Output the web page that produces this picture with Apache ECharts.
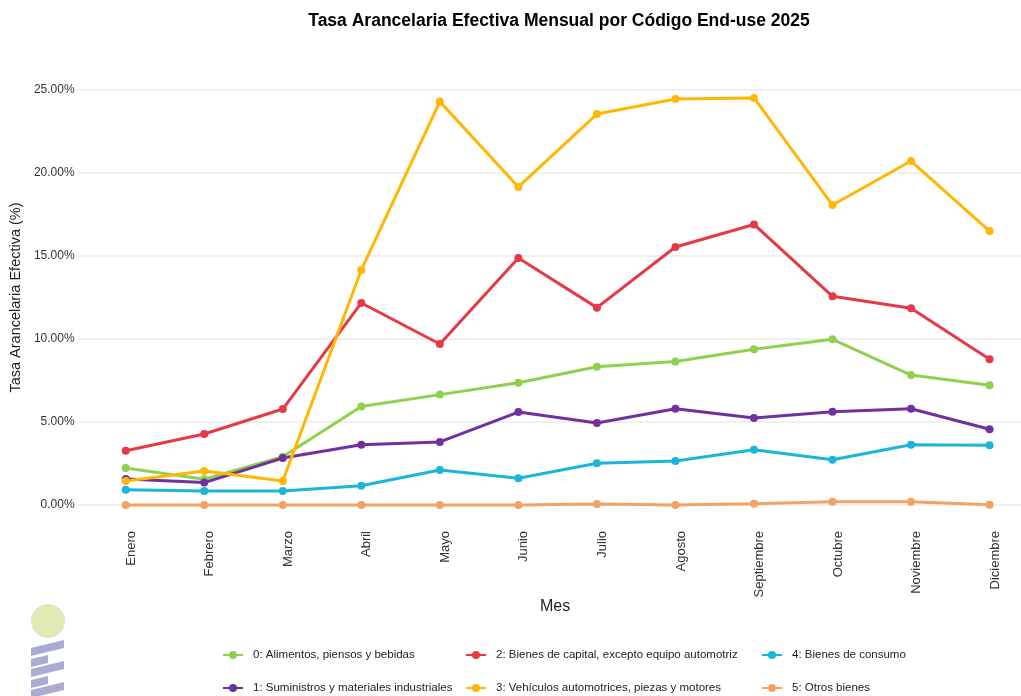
<!DOCTYPE html>
<html>
<head>
<meta charset="utf-8">
<script src="https://cdn.jsdelivr.net/npm/echarts@6/dist/echarts.min.js"></script>
<style>
html,body{margin:0;padding:0;background:#fff;}
#chart{width:1021px;height:696px;}
</style>
</head>
<body>
<div id="chart"></div>
<script>
const months = ['Enero','Febrero','Marzo','Abril','Mayo','Junio','Julio','Agosto','Septiembre','Octubre','Noviembre','Diciembre'];
const yTicks = [0, 5, 10, 15, 20, 25];

const seriesNames = [
  '0: Alimentos, piensos y bebidas',
  '1: Suministros y materiales industriales',
  '2: Bienes de capital, excepto equipo automotriz',
  '3: Vehículos automotrices, piezas y motores',
  '4: Bienes de consumo',
  '5: Otros bienes'
];
const alimentos   = [2.23, 1.55, 2.91, 5.94, 6.65, 7.37, 8.33, 8.65, 9.38, 9.98, 7.83, 7.21];
const suministros = [1.57, 1.35, 2.83, 3.63, 3.80, 5.60, 4.94, 5.80, 5.24, 5.62, 5.80, 4.56];
const capital     = [3.27, 4.28, 5.78, 12.17, 9.70, 14.88, 11.89, 15.54, 16.90, 12.57, 11.85, 8.78];
const vehiculos   = [1.45, 2.05, 1.45, 14.16, 24.30, 19.16, 23.55, 24.46, 24.52, 18.07, 20.72, 16.50];
const consumo     = [0.92, 0.84, 0.84, 1.16, 2.11, 1.61, 2.51, 2.65, 3.33, 2.73, 3.63, 3.60];
const otros       = [0.00, 0.00, 0.00, 0.00, 0.00, 0.00, 0.06, 0.00, 0.08, 0.20, 0.20, 0.02];

const seriesValues = [alimentos, suministros, capital, vehiculos, consumo, otros];
const colors = ['#8fd14f', '#7030a0', '#e63946', '#ffb703', '#1ab5d8', '#f4a261'];

const chart = echarts.init(document.getElementById('chart'), null, {renderer: 'canvas'});
const font = 'Liberation Sans, Arial, sans-serif';

const series = seriesNames.map((name, k) => ({
  name: name,
  type: 'line',
  data: seriesValues[k].map((v, i) => [i, v]),
  symbol: 'circle',
  symbolSize: 8,
  clip: false,
  lineStyle: {width: 3, color: colors[k]},
  itemStyle: {color: colors[k]},
  z: 2
}));

// legend grid: column-major, 2 rows x 3 columns
const legendLefts = [217, 217, 460, 460, 756, 756];
const legendTops = [644, 677, 644, 677, 644, 677];
const legends = seriesNames.map((name, k) => ({
  orient: 'horizontal',
  left: legendLefts[k],
  top: legendTops[k],
  itemWidth: 20,
  itemHeight: 10,
  data: [name],
  textStyle: {fontFamily: font, fontSize: 11.5, color: '#222', padding: [0, 0, 0, 5]},
  selectedMode: false
}));

const option = {
  backgroundColor: '#fff',
  animation: false,
  title: {
    text: 'Tasa Arancelaria Efectiva Mensual por Código End-use 2025',
    left: 554,
    textAlign: 'center',
    top: 7,
    textStyle: {fontFamily: font, fontSize: 17.5, fontWeight: 'bold', color: '#000'}
  },
  legend: legends,
  grid: {left: 76, top: 90, right: 0, height: 415, containLabel: false},
  xAxis: {
    type: 'value',
    min: -0.6,
    max: 11.4,
    axisLine: {show: false},
    axisTick: {show: false},
    splitLine: {show: false},
    axisLabel: {
      customValues: months.map((m, i) => i),
      formatter: v => months[Math.round(v)],
      rotate: 90,
      margin: 26,
      verticalAlign: 'top',
      lineHeight: 11,
      fontFamily: font,
      fontSize: 13,
      color: '#333'
    }
  },
  yAxis: {
    type: 'value',
    min: 0,
    max: 25,
    interval: 5,
    name: 'Tasa Arancelaria Efectiva (%)',
    nameLocation: 'middle',
    nameGap: 54,
    nameTextStyle: {fontFamily: font, fontSize: 14.5, color: '#222'},
    axisLine: {show: false},
    axisTick: {show: false},
    splitLine: {show: true, lineStyle: {color: '#ebebeb', width: 1.5}},
    axisLabel: {
      formatter: v => v.toFixed(2) + '%',
      margin: 4,
      fontFamily: font,
      fontSize: 12,
      color: '#333'
    }
  },
  series: series,
  graphic: [
    {type: 'text', left: 540, top: 599, style: {text: 'Mes', font: '16px Liberation Sans, Arial, sans-serif', fill: '#222'}},
    {type: 'circle', shape: {cx: 48, cy: 621, r: 17}, style: {fill: '#dfe9b3'}},
    {type: 'polygon', shape: {points: [[31, 648], [64, 640], [64, 648], [31, 656]]}, style: {fill: '#a9acd0'}},
    {type: 'polygon', shape: {points: [[31, 659], [48, 655], [48, 663], [31, 667]]}, style: {fill: '#a9acd0'}},
    {type: 'polygon', shape: {points: [[31, 669], [64, 661], [64, 669], [31, 677]]}, style: {fill: '#a9acd0'}},
    {type: 'polygon', shape: {points: [[31, 680], [48, 676], [48, 684], [31, 688]]}, style: {fill: '#a9acd0'}},
    {type: 'polygon', shape: {points: [[31, 690], [64, 682], [64, 690], [31, 698]]}, style: {fill: '#a9acd0'}}
  ]
};
chart.setOption(option);
</script>
</body>
</html>
